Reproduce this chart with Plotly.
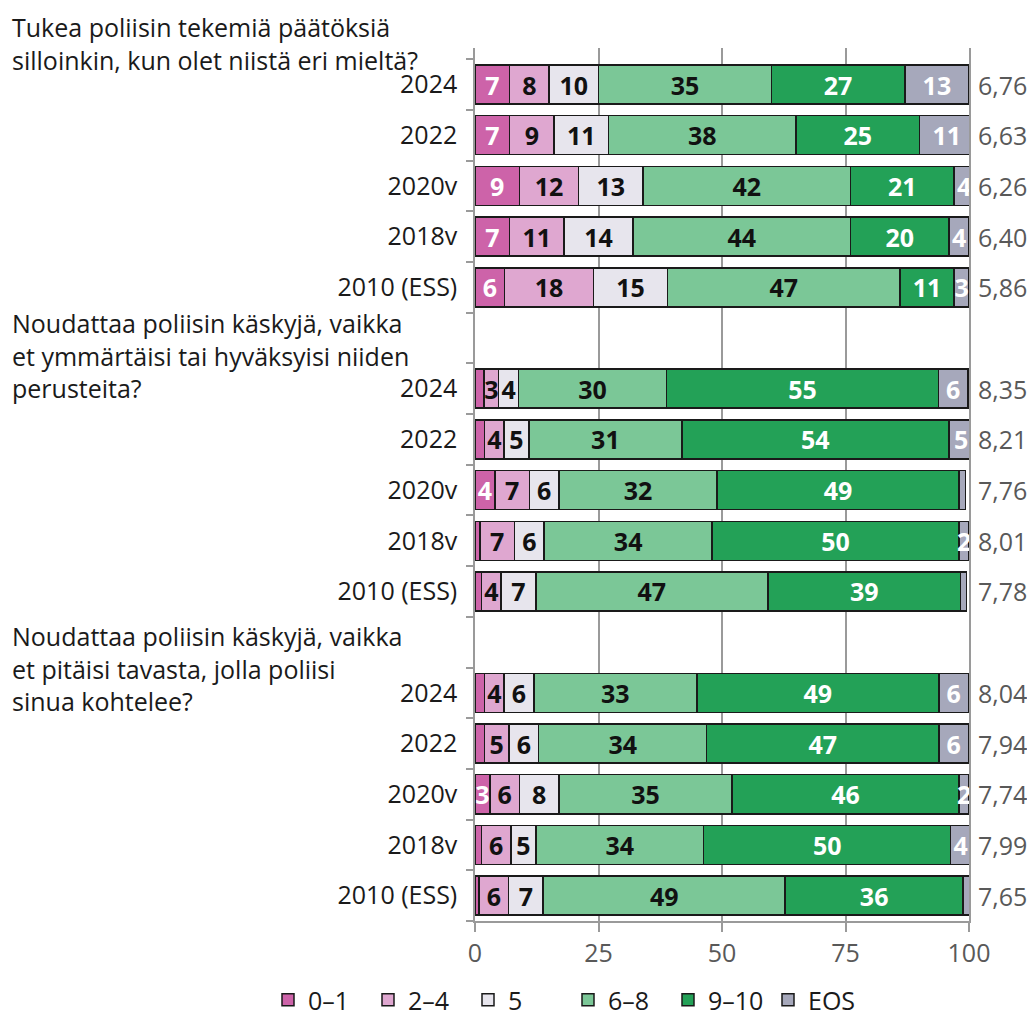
import plotly.graph_objects as go

# ---- data ----
years = ["2024", "2022", "2020v", "2018v", "2010 (ESS)"]
questions = [
    "Tukea poliisin tekemiä päätöksiä<br>silloinkin, kun olet niistä eri mieltä?",
    "Noudattaa poliisin käskyjä, vaikka<br>et ymmärtäisi tai hyväksyisi niiden<br>perusteita?",
    "Noudattaa poliisin käskyjä, vaikka<br>et pitäisi tavasta, jolla poliisi<br>sinua kohtelee?",
]
series_names = ["0–1", "2–4", "5", "6–8", "9–10", "EOS"]
v_0_1 = [7, 7, 9, 7, 6, 1.8, 1.9, 4, 1, 1.3, 1.9, 1.9, 3, 1.3, 0.8]
v_2_4 = [8, 9, 12, 11, 18, 3, 4, 7, 7, 4, 4, 5, 6, 6, 6]
v_5 = [10, 11, 13, 14, 15, 4, 5, 6, 6, 7, 6, 6, 8, 5, 7]
v_6_8 = [35, 38, 42, 44, 47, 30, 31, 32, 34, 47, 33, 34, 35, 34, 49]
v_9_10 = [27, 25, 21, 20, 11, 55, 54, 49, 50, 39, 49, 47, 46, 50, 36]
v_eos = [13, 11, 4, 4, 3, 6, 5, 1.3, 2, 1.2, 6, 6, 2, 4, 1.3]
means = ["6,76", "6,63", "6,26", "6,40", "5,86",
         "8,35", "8,21", "7,76", "8,01", "7,78",
         "8,04", "7,94", "7,74", "7,99", "7,65"]

colors = ["#CD63A9", "#DFA7D0", "#E7E5ED", "#7BC797", "#23A157", "#A6A8BB"]
text_colors = ["white", "#111111", "#111111", "#111111", "white", "white"]
all_series = [v_0_1, v_2_4, v_5, v_6_8, v_9_10, v_eos]

FONT = "Open Sans"
FS = 25
OFF = 8  # page body margin
W, H = 1035 - OFF, 1022 - OFF
ML, MR, MT = 475 - OFF, 66, 48 - OFF
PW = W - ML - MR
PH = 873
MB = H - MT - PH

# row positions: 5 rows per question, one blank slot between questions
ypos = [g * 6 + i for g in range(3) for i in range(5)]
yticktext = years * 3


def py_to_paper(page_y):
    return 1 - (page_y - OFF - MT) / PH


def px_to_paper(page_x):
    return (page_x - OFF - ML) / PW


fig = go.Figure()
for name, vals, col, tcol in zip(series_names, all_series, colors, text_colors):
    fig.add_trace(go.Bar(
        name=name,
        y=ypos,
        x=vals,
        orientation="h",
        marker=dict(color=col, line=dict(color="#1a1a1a", width=1.5)),
        text=[f"{v:.0f}" if v >= 2 else "" for v in vals],
        textposition="inside",
        insidetextanchor="middle",
        textangle=0,
        insidetextfont=dict(family=FONT, size=FS, color=tcol, weight="bold"),
        hoverinfo="skip",
    ))

annotations = []
for y, m in zip(ypos, means):
    annotations.append(dict(
        x=100, y=y, xref="x", yref="y", text=m, showarrow=False,
        xanchor="left", yanchor="middle", xshift=7,
        font=dict(family=FONT, size=FS, color="#595959"),
    ))

# page-pixel tops of the three question blocks
title_tops = [8, 304, 617]
for q, top in zip(questions, title_tops):
    annotations.append(dict(
        x=px_to_paper(10), y=py_to_paper(top), xref="paper", yref="paper",
        text=q, showarrow=False, xanchor="left", yanchor="top", align="left",
        font=dict(family=FONT, size=FS, color="#1a1a1a"),
    ))

fig.update_layout(
    width=W, height=H,
    margin=dict(l=ML, r=MR, t=MT, b=MB, autoexpand=False),
    barmode="stack",
    bargap=0.23,
    plot_bgcolor="white",
    paper_bgcolor="white",
    font=dict(family=FONT, size=FS, color="#1a1a1a"),
    uniformtext=dict(mode="show", minsize=FS),
    showlegend=True,
    legend=dict(
        orientation="h", x=px_to_paper(268), xanchor="left",
        y=py_to_paper(1000), yanchor="middle",
        font=dict(family=FONT, size=FS, color="#1a1a1a"),
        traceorder="normal",
        entrywidth=55, entrywidthmode="pixels",
    ),
    annotations=annotations,
    xaxis=dict(
        range=[0, 100], tickvals=[0, 25, 50, 75, 100],
        showgrid=True, gridcolor="#9a9a9a", gridwidth=1.5,
        showline=True, linecolor="#9a9a9a", linewidth=1.5,
        ticks="outside", ticklen=9, tickcolor="#9a9a9a", tickwidth=1.5,
        ticklabelstandoff=0,
        tickfont=dict(family=FONT, size=FS, color="#595959"),
        zeroline=False, fixedrange=True,
    ),
    yaxis=dict(
        range=[16.5, -0.72],
        tickmode="array", tickvals=ypos, ticktext=yticktext,
        ticks="", ticklabelstandoff=11,
        tickfont=dict(family=FONT, size=FS, color="#1a1a1a"),
        showline=True, linecolor="#9a9a9a", linewidth=1.5, mirror=True,
        showgrid=False, zeroline=False, fixedrange=True,
        minor=dict(
            tickmode="array", tickvals=[i - 0.5 for i in range(18)],
            ticks="outside", ticklen=7, tickcolor="#9a9a9a", tickwidth=1.5,
            showgrid=False,
        ),
    ),
)

fig.write_html("out.html")
